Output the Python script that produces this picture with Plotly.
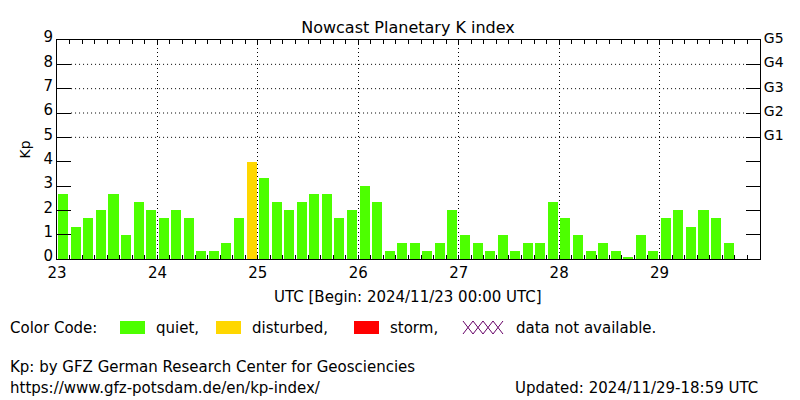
import plotly.graph_objects as go

# Kp values per 3-hour interval, starting 2024/11/23 00:00 UTC
start_day = 23
kp = [2.67, 1.33, 1.67, 2.0, 2.67, 1.0, 2.33, 2.0,
      1.67, 2.0, 1.67, 0.33, 0.33, 0.67, 1.67, 4.0,
      3.33, 2.33, 2.0, 2.33, 2.67, 2.67, 1.67, 2.0,
      3.0, 2.33, 0.33, 0.67, 0.67, 0.33, 0.67, 2.0,
      1.0, 0.67, 0.33, 1.0, 0.33, 0.67, 0.67, 2.33,
      1.67, 1.0, 0.33, 0.67, 0.33, 0.05, 1.0, 0.33,
      1.67, 2.0, 1.33, 2.0, 1.67, 0.67]
day_labels = ['23', '24', '25', '26', '27', '28', '29']
g_labels = ['G1', 'G2', 'G3', 'G4', 'G5']

QUIET = '#4dff00'
DISTURBED = '#ffd700'
STORM = '#ff0000'
FONT = 'DejaVu Sans'
DOT = '1px,3px'

# plot frame in pixels
L, R, T, B = 57, 760, 40, 259
PW, PH = R - L, B - T


def px_x(x):
    return (x - L) / PW


def px_y(y):
    return (B - y) / PH


def kp_color(v):
    if v >= 5:
        return STORM
    if v >= 4:
        return DISTURBED
    return QUIET


times = [start_day + (i + 0.5) / 8 for i in range(len(kp))]

fig = go.Figure()
fig.add_trace(go.Bar(
    x=times, y=kp, width=0.1,
    marker=dict(color=[kp_color(v) for v in kp], line=dict(width=0)),
    hoverinfo='x+y', showlegend=False,
))
# invisible trace to activate the right-hand G axis
fig.add_trace(go.Scatter(x=[start_day], y=[0], yaxis='y2', mode='markers',
                         marker=dict(opacity=0), showlegend=False, hoverinfo='skip'))

fig.update_layout(
    width=800, height=400,
    margin=dict(l=L, r=800 - R, t=T, b=400 - B, autoexpand=False),
    plot_bgcolor='white', paper_bgcolor='white',
    font=dict(family=FONT, size=15, color='black'),
    bargap=0,
    title=dict(text='Nowcast Planetary K index', x=px_x(408), xref='paper', xanchor='center',
               y=1 - 27 / 400, yref='container', yanchor='middle', font=dict(size=16)),
    xaxis=dict(
        range=[23, 30], tickvals=list(range(23, 30)), ticktext=day_labels,
        ticks='inside', ticklen=4, tickcolor='black', automargin=False,
        minor=dict(dtick=0.125, ticks='inside', ticklen=4, tickcolor='black', showgrid=False),
        showline=True, linecolor='black', linewidth=1, mirror='ticks',
        showgrid=True, gridcolor='black', griddash=DOT, gridwidth=1,
        zeroline=False, tickfont=dict(size=15),
    ),
    yaxis=dict(
        range=[0, 9], tickvals=list(range(10)), ticks='inside', ticklen=14,
        tickcolor='black', showline=True, linecolor='black', linewidth=1,
        showgrid=False, zeroline=False, tickfont=dict(size=15), automargin=False,
        ticklabelshift=-3,
        title=dict(text='Kp', standoff=9, font=dict(size=14)),
    ),
    yaxis2=dict(
        range=[0, 9], overlaying='y', side='right',
        tickvals=list(range(1, 10)), ticktext=['', '', '', ''] + g_labels,
        ticks='inside', ticklen=14, tickcolor='black', automargin=False,
        showline=True, linecolor='black', linewidth=1, ticklabelshift=-2,
        showgrid=False, zeroline=False, tickfont=dict(size=14),
    ),
)

# dotted horizontal grid at Kp 5..8, between the inner ticks
for lvl in range(5, 9):
    fig.add_shape(type='line', xref='x', yref='y', x0=23.14, x1=29.86, y0=lvl, y1=lvl,
                  line=dict(color='black', width=1, dash=DOT), layer='below')

# bottom texts
fig.add_annotation(text='UTC [Begin: 2024/11/23 00:00 UTC]', xref='paper', yref='paper',
                   x=px_x(408), y=px_y(297), xanchor='center', yanchor='middle',
                   showarrow=False, font=dict(size=15))

ly = 328
fig.add_annotation(text='Color Code:', xref='paper', yref='paper', x=px_x(8), y=px_y(ly),
                   xanchor='left', yanchor='middle', showarrow=False)

legend_items = [(120, QUIET, 'quiet,'), (216, DISTURBED, 'disturbed,'), (354, STORM, 'storm,')]
for px0, col, lab in legend_items:
    fig.add_shape(type='rect', xref='paper', yref='paper',
                  x0=px_x(px0), x1=px_x(px0 + 25), y0=px_y(334), y1=px_y(321),
                  fillcolor=col, line=dict(width=0))
    fig.add_annotation(text=lab, xref='paper', yref='paper', x=px_x(px0 + 34),
                       y=px_y(ly), xanchor='left', yanchor='middle', showarrow=False)

# hatch symbol for missing data
xs = [463 + 10 * k for k in range(5)]
for start_top in (True, False):
    pts = []
    for k, xv in enumerate(xs):
        top = (k % 2 == 0) == start_top
        pts.append(f"{px_x(xv):.5f},{px_y(321 if top else 334):.5f}")
    fig.add_shape(type='path', xref='paper', yref='paper',
                  path='M ' + ' L '.join(pts), line=dict(color='#660066', width=1))
fig.add_annotation(text='data not available.', xref='paper', yref='paper', x=px_x(514),
                   y=px_y(ly), xanchor='left', yanchor='middle', showarrow=False)

fig.add_annotation(text='Kp: by GFZ German Research Center for Geosciencies', xref='paper',
                   yref='paper', x=px_x(8), y=px_y(367),
                   xanchor='left', yanchor='middle', showarrow=False)
fig.add_annotation(text='https://www.gfz-potsdam.de/en/kp-index/', xref='paper',
                   yref='paper', x=px_x(8), y=px_y(388),
                   xanchor='left', yanchor='middle', showarrow=False)
fig.add_annotation(text='Updated: 2024/11/29-18:59 UTC', xref='paper', yref='paper',
                   x=px_x(760), y=px_y(388), xanchor='right', yanchor='middle',
                   showarrow=False)

# drop the default page margin so the 800x400 figure sits at the window corner
fig.write_html("out.html", config={'displayModeBar': False},
               post_script="document.body.style.margin='0';")
